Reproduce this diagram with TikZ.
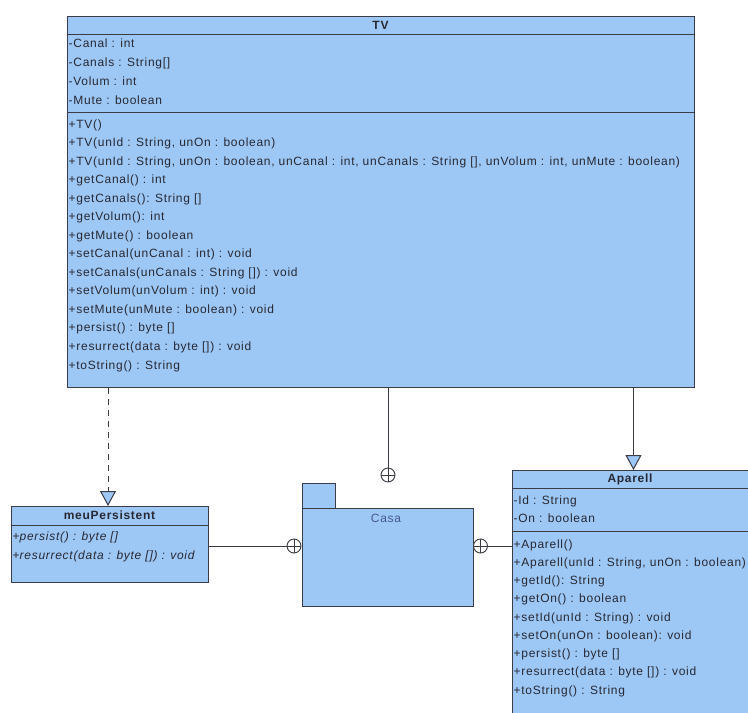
\documentclass[tikz,border=0pt]{standalone}
\usepackage{fontspec}
\setmainfont{Liberation Sans}[LetterSpace=6]
\usetikzlibrary{arrows.meta}
\definecolor{boxblue}{RGB}{157,200,246}
\definecolor{edge}{RGB}{60,60,70}
\definecolor{ink}{RGB}{40,40,50}
\definecolor{pkgink}{RGB}{70,90,140}
\begin{document}
\begin{tikzpicture}[x=1pt,y=-1pt,
  font=\fontsize{12}{14}\selectfont,
  classbox/.style={draw=edge, fill=boxblue, line width=1pt, rectangle, inner sep=0pt, anchor=north west},
  row/.style={anchor=west, inner sep=0pt, text height=9pt, text depth=3pt, text=ink},
  ctitle/.style={inner sep=0pt, text=ink, font=\fontsize{12}{14}\selectfont\bfseries},
  conn/.style={draw=edge, line width=1pt},
  gen/.style={conn, -{Triangle[fill=boxblue, length=15pt, width=16pt, line width=1pt]}},
  nest/.style={circle, draw=edge, fill=white, line width=0.9pt, minimum size=14pt, inner sep=0pt,
    path picture={\draw[edge, line width=0.9pt] (path picture bounding box.north) -- (path picture bounding box.south)
      (path picture bounding box.west) -- (path picture bounding box.east);}}
]
\useasboundingbox (0,0) rectangle (748,713);
\clip (0,0) rectangle (748,713);

% ---------- TV ----------
\node[classbox, minimum width=627pt, minimum height=371pt] (tv) at (67,16) {};
\draw[conn] (67,34) -- (694,34);
\draw[conn] (67,112) -- (694,112);
\node[ctitle] (tvtitle) at (380.5,25) {TV};
\foreach \txt [count=\i from 0] in {{-Canal : int}, {-Canals : String[]}, {-Volum : int}, {-Mute : boolean}}
  \node[row] (tva\i) at (68.5,44+19*\i) {\txt};
\foreach \txt [count=\i from 0] in {
  {+TV()},
  {+TV(unId : String, unOn : boolean)},
  {+TV(unId : String, unOn : boolean, unCanal : int, unCanals : String [], unVolum : int, unMute : boolean)},
  {+getCanal() : int},
  {+getCanals(): String []},
  {+getVolum(): int},
  {+getMute() : boolean},
  {+setCanal(unCanal : int) : void},
  {+setCanals(unCanals : String []) : void},
  {+setVolum(unVolum : int) : void},
  {+setMute(unMute : boolean) : void},
  {+persist() : byte []},
  {+resurrect(data : byte []) : void},
  {+toString() : String}}
  \node[row] (tvm\i) at (68.5,125+18.54*\i) {\txt};

% ---------- meuPersistent ----------
\node[classbox, minimum width=197pt, minimum height=76pt] (meu) at (11,506) {};
\draw[conn] (11,525) -- (208,525);
\node[ctitle] (meutitle) at (109.5,515.5) {meuPersistent};
\node[row] (meum0) at (12.5,537) {+\textit{persist() : byte []}};
\node[row] (meum1) at (12.5,556.5) {+\textit{resurrect(data : byte []) : void}};

% ---------- Casa package ----------
\node[classbox, minimum width=33.5pt, minimum height=25pt] (casatab) at (301.5,482.5) {};
\node[classbox, minimum width=171pt, minimum height=98.5pt] (casa) at (301.5,507.5) {};
\node[inner sep=0pt, text=pkgink] (casalabel) at (386,518) {Casa};

% ---------- Aparell ----------
\node[classbox, minimum width=260pt, minimum height=270pt] (ap) at (512,470) {};
\draw[conn] (512,488.5) -- (770,488.5);
\draw[conn] (512,531.5) -- (770,531.5);
\node[ctitle] (aptitle) at (630,479.5) {Aparell};
\foreach \txt [count=\i from 0] in {{-Id : String}, {-On : boolean}}
  \node[row] (apa\i) at (513.5,501+18.5*\i) {\txt};
\foreach \txt [count=\i from 0] in {
  {+Aparell()},
  {+Aparell(unId : String, unOn : boolean)},
  {+getId(): String},
  {+getOn() : boolean},
  {+setId(unId : String) : void},
  {+setOn(unOn : boolean): void},
  {+persist() : byte []},
  {+resurrect(data : byte []) : void},
  {+toString() : String}}
  \node[row] (apm\i) at (513.5,545+18.25*\i) {\txt};

% ---------- nesting circles ----------
\node[nest] (c1) at (388,475) {};
\node[nest] (c2) at (294,546) {};
\node[nest] (c3) at (480.5,546) {};

% ---------- connectors ----------
\coordinate (mtop) at (108,506);
\coordinate (aptop) at (633.5,470);
\draw[gen, dash pattern=on 6pt off 5pt] (mtop |- tv.south) -- (mtop);
\draw[gen] (aptop |- tv.south) -- (aptop);
\draw[conn] (c1 |- tv.south) -- (c1.north);
\draw[conn] (meu.east |- c2) -- (c2.west);
\draw[conn] (c3.east) -- (c3 -| ap.west);
\end{tikzpicture}
\end{document}
